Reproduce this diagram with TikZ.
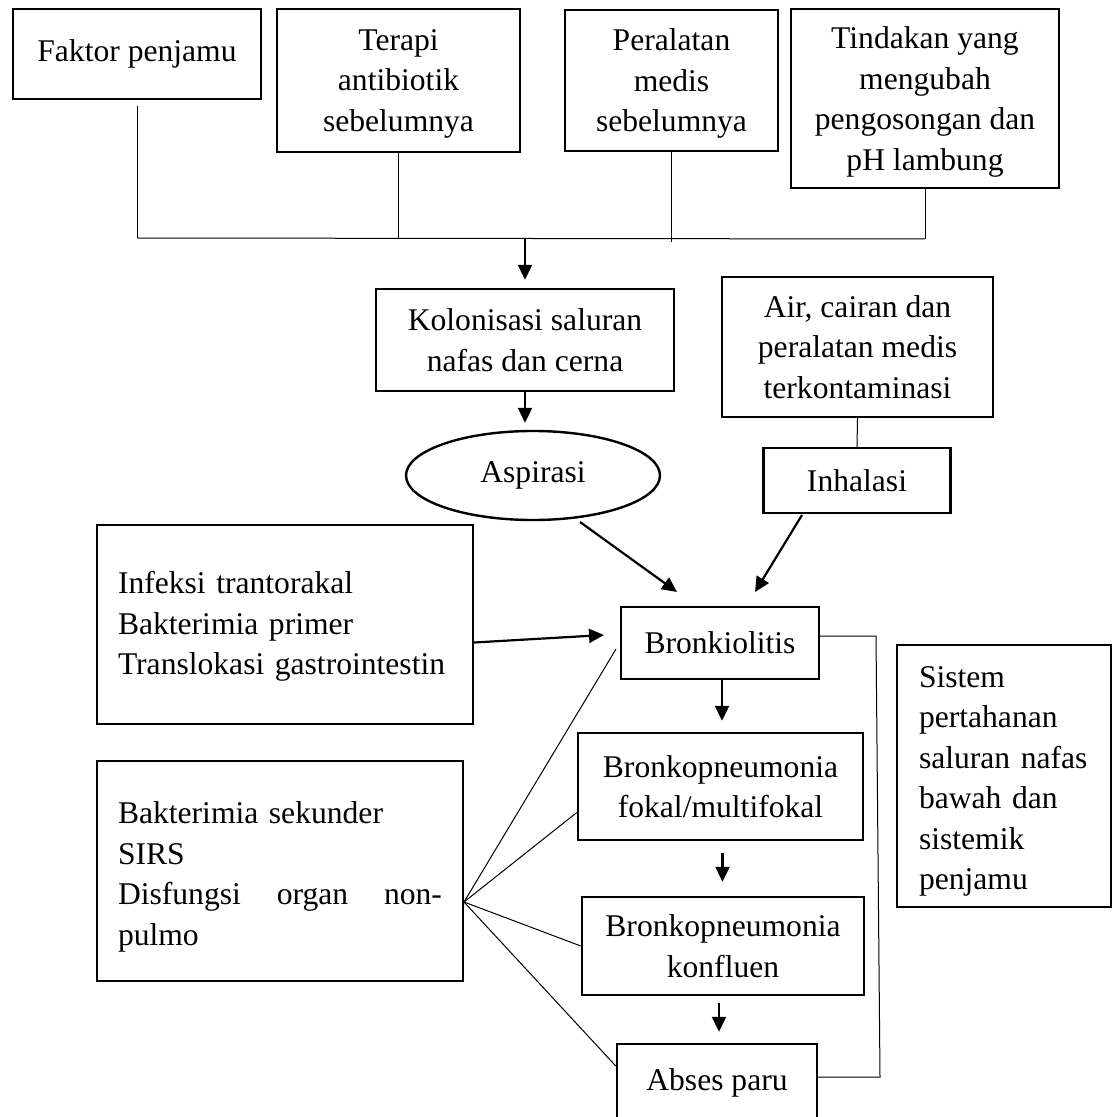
\documentclass[tikz,border=0pt]{standalone}
\usepackage{fontspec}
\setmainfont{Liberation Serif}
\usetikzlibrary{arrows.meta,shapes.geometric}
\begin{document}
\begin{tikzpicture}[x=0.5pt,y=-0.5pt,
  font=\fontsize{15.8}{20.25}\selectfont,
  box/.style={draw, line width=1.2pt, rectangle, inner sep=0pt, align=center},
  wh/.style 2 args={minimum width=#1*0.5pt, minimum height=#2*0.5pt},
  tdown/.style={text height=#1},
  thinline/.style={line width=0.5pt},
  arr/.style={line width=1.1pt, -{Triangle[length=7.5pt,width=7pt]}}]
\useasboundingbox (0,0) rectangle (1113,1117);

% top row
\node[box, wh={248}{90}] (faktor) at (137,54) {Faktor penjamu};
\node[box, wh={243}{143}, text depth=0pt] (terapi) at (398.5,80.5) {Terapi\\antibiotik\\sebelumnya};
\node[box, wh={213}{141}, text depth=0pt] (peralatan) at (671.5,80.5) {Peralatan\\medis\\sebelumnya};
\node[box, wh={268}{179}, text depth=0pt] (tindakan) at (925,98.5) {Tindakan yang\\mengubah\\pengosongan dan\\pH lambung};

\coordinate (hl) at (137,238);
\coordinate (hr) at (925,239);

\draw[thinline] (faktor.south) ++(0,6) -- (faktor.south |- hl);
\draw[thinline] (terapi.south) -- (terapi.south |- hl);
\draw[thinline] (peralatan.south) -- ++(0,90);
\draw[thinline] (tindakan.south) -- (tindakan.south |- hr);
\draw[thinline] (faktor.south |- hl) -- (tindakan.south |- hr);

% middle
\node[box, wh={298}{102}] (kolonisasi) at (525,340) {Kolonisasi saluran\\nafas dan cerna};
\draw[arr, shorten >=4pt] (kolonisasi.north |- hl) -- (kolonisasi.north);

\node[draw, ellipse, line width=1.2pt, inner sep=0pt,
      minimum width=254*0.5pt, minimum height=89*0.5pt] (aspirasi) at (533,475.5) {Aspirasi};
\draw[arr, shorten >=3.5pt] (kolonisasi.south) -- (kolonisasi.south |- aspirasi.north);

\node[box, wh={271}{140}] (air) at (857.5,347) {Air, cairan dan\\peralatan medis\\terkontaminasi};
\node[box, wh={187}{65}] (inhalasi) at (857,480.5) {Inhalasi};
\draw[thinline] (air.south) -- (inhalasi.north);

\node[box, wh={198}{72}] (bronk) at (720,643) {Bronkiolitis};

\coordinate (a1s) at (580,522);
\coordinate (a1e) at (677,592);
\coordinate (a2s) at (802,515);
\coordinate (a2e) at (755,592);
\draw[arr] (a1s) -- (a1e);
\draw[arr] (a2s) -- (a2e);

\node[box, wh={376}{199}, text width=167pt, align=left, tdown=13.3pt] (infeksi) at (285,624.5)
  {Infeksi trantorakal\\Bakterimia primer\\Translokasi gastrointestin};
\coordinate (a3e) at (604,635);
\draw[arr] ([yshift=-9pt]infeksi.east) -- (a3e);

\node[box, wh={285}{107}] (fokal) at (720.5,786.5) {Bronkopneumonia\\fokal/multifokal};
\draw[arr, shorten >=5.5pt] ([xshift=1pt]bronk.south) -- ([xshift=1pt]bronk.south |- fokal.north);

\node[box, wh={282}{98}] (konfluen) at (723,946) {Bronkopneumonia\\konfluen};
\draw[arr, shorten >=7pt] ([xshift=1pt,yshift=-6pt]fokal.south) -- ([xshift=1pt]fokal.south |- konfluen.north);

\node[box, wh={200}{78}] (abses) at (717,1083) {Abses paru};
\draw[arr, shorten >=5.5pt] ([xshift=-2pt,yshift=-3.5pt]konfluen.south) -- ([xshift=-2pt]konfluen.south |- abses.north);

\node[box, wh={366}{220}, text width=162pt, align=left, tdown=16.8pt] (bakt) at (280,871)
  {Bakterimia sekunder\\SIRS\\Disfungsi\hfill organ\hfill non-\\pulmo};

\coordinate (bk) at (464,902);
\coordinate (t1) at (616,649);
\draw[thinline] (bk) -- (t1);
\draw[thinline] (bk) -- ([yshift=-13pt]fokal.west);
\draw[thinline] (bk) -- (konfluen.west);
\draw[thinline] (bk) -- ([yshift=8.5pt]abses.west);

\node[box, wh={214}{262}, text width=85pt, align=left, tdown=15.7pt] (sistem) at (1004,776)
  {Sistem\\pertahanan\\saluran nafas\\bawah dan\\sistemik\\penjamu};

\coordinate (br1) at (876,636);
\coordinate (br2) at (880,1077);
\draw[thinline] ([yshift=3.5pt]bronk.east) -- (br1) -- (br2) -- ([yshift=3pt]abses.east);
\end{tikzpicture}
\end{document}
